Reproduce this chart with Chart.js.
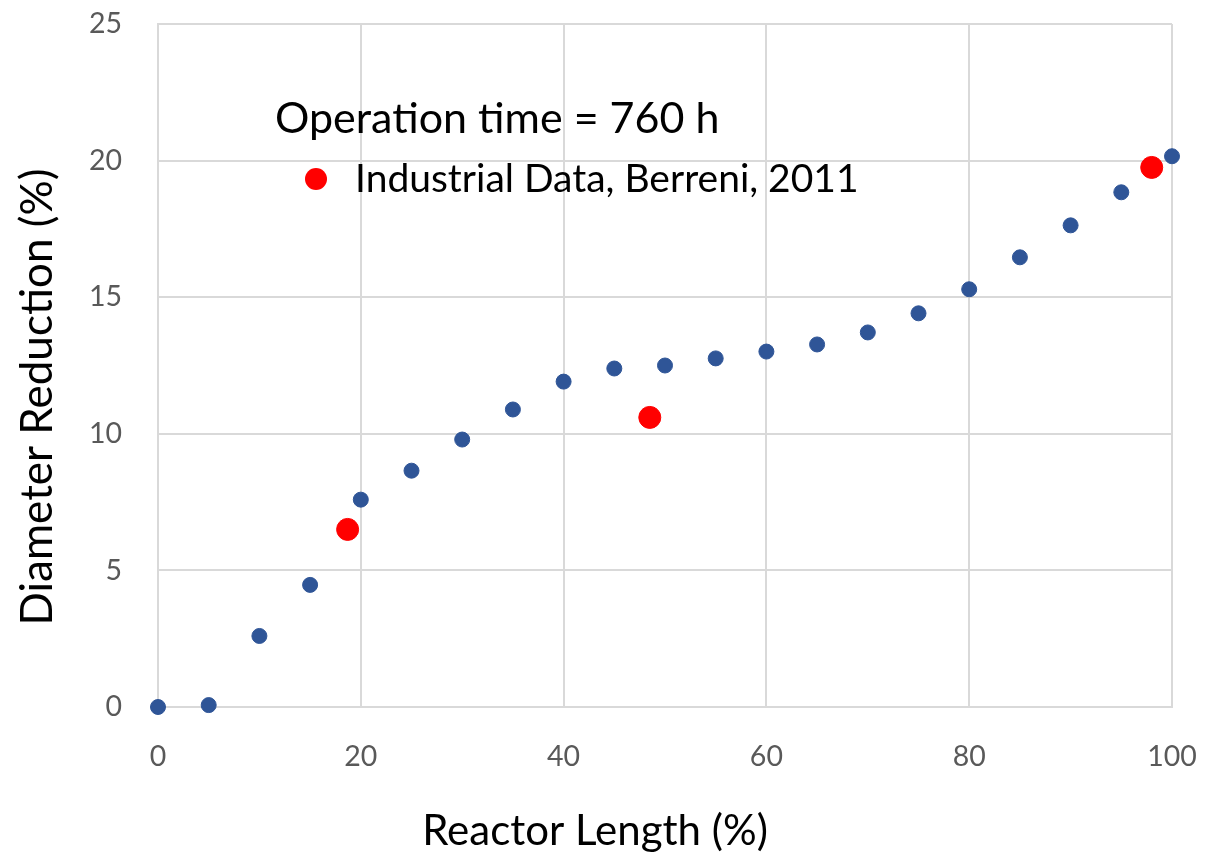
<!DOCTYPE html>
<html>
<head>
<meta charset="utf-8">
<script src="https://cdn.jsdelivr.net/npm/chart.js@4"></script>
<style>
  body { margin: 0; background: #fff; }
</style>
</head>
<body>
<canvas id="chart" width="1225" height="857"></canvas>
<script>
Chart.defaults.font.family = 'Lato, "Open Sans", sans-serif'

const lengths = [0, 5, 10, 15, 20, 25, 30, 35, 40, 45, 50, 55, 60, 65, 70, 75, 80, 85, 90, 95, 100]
const reduction = [0, 0.07, 2.6, 4.47, 7.59, 8.65, 9.79, 10.89, 11.91, 12.39, 12.5, 12.76, 13.01, 13.27, 13.71, 14.41, 15.29, 16.46, 17.63, 18.84, 20.16]

const industrialLength = [18.7, 48.5, 98.0]
const industrialReduction = [6.5, 10.6, 19.75]

const xTitle = 'Reactor Length (%)'
const yTitle = 'Diameter Reduction (%)'
const legendTitle = 'Operation time = 760 h'
const legendLabel = 'Industrial Data, Berreni, 2011'

// legend text and axis titles sit off-centre in the original, so they are drawn here
const annotations = {
    id: 'annotations',
    afterDraw(chart) {
        const ctx = chart.ctx
        const area = chart.chartArea
        ctx.save()
        ctx.fillStyle = '#000'
        ctx.textBaseline = 'middle'
        ctx.font = '43px Lato, "Open Sans", sans-serif'
        ctx.fillText(legendTitle, area.left + 117, 119)
        ctx.beginPath()
        ctx.arc(area.left + 158, 179, 11, 0, Math.PI * 2)
        ctx.fillStyle = '#ff0000'
        ctx.fill()
        ctx.fillStyle = '#000'
        ctx.font = '39px Lato, "Open Sans", sans-serif'
        ctx.fillText(legendLabel, area.left + 197, 179)

        ctx.textAlign = 'center'
        ctx.font = '42px Lato, "Open Sans", sans-serif'
        ctx.fillText(xTitle, 595, 831)
        ctx.translate(38, 397)
        ctx.rotate(-Math.PI / 2)
        ctx.font = '44px Lato, "Open Sans", sans-serif'
        ctx.fillText(yTitle, 0, 0)
        ctx.restore()
    }
}

const data = {
    datasets: [{
        label: 'Model',
        data: lengths.map((x, i) => ({ x, y: reduction[i] })),
        backgroundColor: '#2f5597',
        borderColor: '#2f5597',
        pointRadius: 7.5
    },
    {
        label: legendLabel,
        data: industrialLength.map((x, i) => ({ x, y: industrialReduction[i] })),
        backgroundColor: '#ff0000',
        borderColor: '#ff0000',
        pointRadius: 11
    }]
}

let options = {
    responsive: false,
    animation: false,
    clip: false,
    layout: { padding: { top: 0, right: 53, left: 13, bottom: 0 } },
    plugins: {
        legend: { display: false },
        tooltip: { enabled: false }
    },
    scales: {
        x: {
            type: 'linear',
            min: 0,
            max: 100,
            ticks: { stepSize: 20, color: '#595959', font: { size: 28.5 }, padding: 33, maxRotation: 0 },
            grid: { color: '#d9d9d9', lineWidth: 2, drawTicks: false },
            border: { color: '#d9d9d9', width: 2 },
            afterFit(scale) {
                scale.paddingLeft = 0
                scale.paddingRight = 0
                scale.height = 150
            }
        },
        y: {
            min: 0,
            max: 25,
            ticks: { stepSize: 5, color: '#595959', font: { size: 28.5 }, padding: 36 },
            grid: { color: '#d9d9d9', lineWidth: 2, drawTicks: false },
            border: { color: '#d9d9d9', width: 2 },
            afterFit(scale) {
                scale.paddingTop = 24
                scale.paddingBottom = 17
                scale.width = 145
            }
        }
    }
}

new Chart('chart', { type: 'scatter', data, options, plugins: [annotations] })
</script>
</body>
</html>
